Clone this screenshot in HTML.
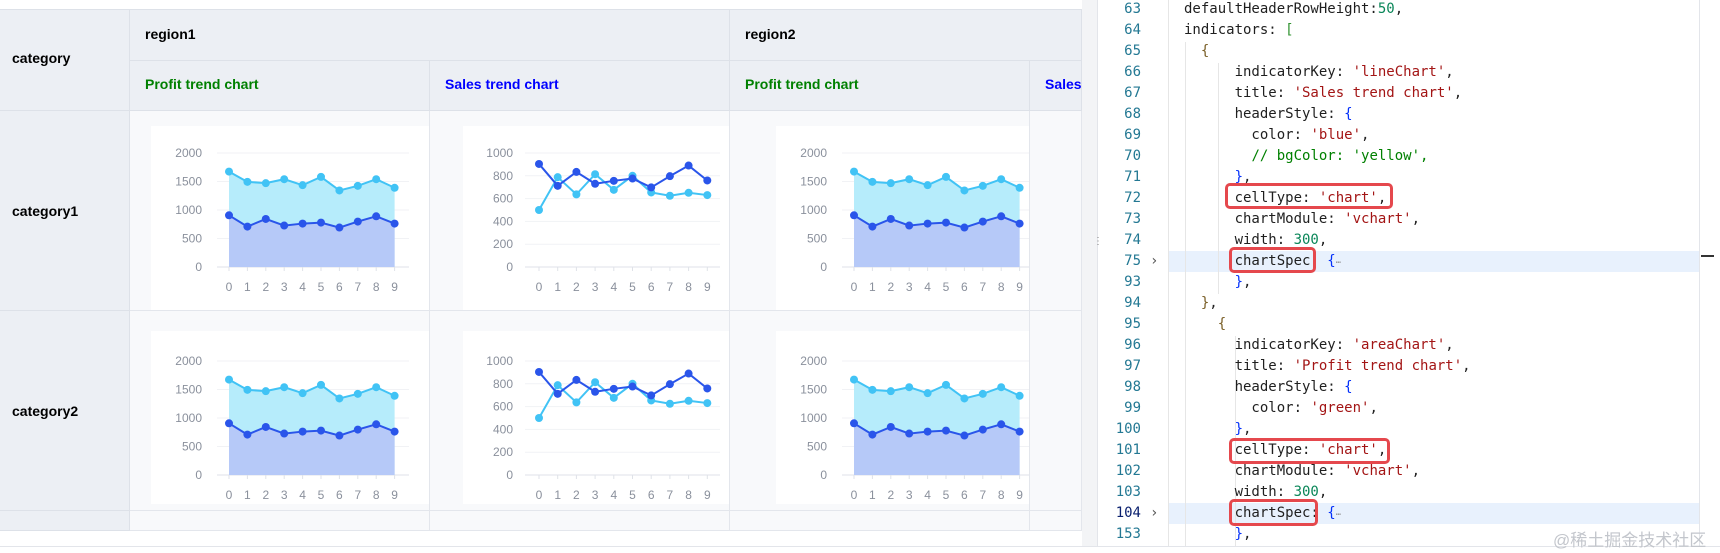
<!DOCTYPE html>
<html><head><meta charset="utf-8">
<style>
body{margin:0;width:1720px;height:553px;overflow:hidden;background:#fff;position:relative;font-family:"Liberation Sans",Arial,sans-serif}
.a{position:absolute;box-sizing:border-box}
.hd{background:#eceff4;border-right:1px solid #dde1e8;border-bottom:1px solid #dde1e8}
.cell{background:#f8f9fb;border-right:1px solid #e3e6ec;border-bottom:1px solid #e3e6ec;overflow:hidden}
.t{position:absolute;font-weight:bold;font-size:14px;color:#000;white-space:nowrap}
.card{position:absolute;background:#fff;overflow:hidden}
.code{position:absolute;font-family:"DejaVu Sans Mono","Liberation Mono",monospace;font-size:14px;white-space:pre;color:#1f1f1f;line-height:21px}
.ln{position:absolute;font-family:"DejaVu Sans Mono","Liberation Mono",monospace;font-size:14px;color:#237893;width:60px;text-align:right;line-height:21px}
.s{color:#a31515}.n{color:#098658}.c{color:#008000}.b{color:#0431fa}.g{color:#319331}.y{color:#795e26}
.box{position:absolute;border:3px solid #e5484d;border-radius:5px;box-sizing:border-box}
</style></head><body>
<div class="a" style="left:0;top:9px;width:1082px;height:1px;background:#dde1e8"></div>
<div class="a hd" style="left:0;top:10px;width:130px;height:101px"><span class="t" style="left:12px;top:40px">category</span></div>
<div class="a hd" style="left:130px;top:10px;width:600px;height:51px"><span class="t" style="left:15px;top:16px">region1</span></div>
<div class="a hd" style="left:730px;top:10px;width:352px;height:51px"><span class="t" style="left:15px;top:16px">region2</span></div>
<div class="a hd" style="left:130px;top:61px;width:300px;height:50px"><span class="t" style="left:15px;top:15px;color:#008000">Profit trend chart</span></div>
<div class="a hd" style="left:430px;top:61px;width:300px;height:50px"><span class="t" style="left:15px;top:15px;color:#0000ff">Sales trend chart</span></div>
<div class="a hd" style="left:730px;top:61px;width:300px;height:50px"><span class="t" style="left:15px;top:15px;color:#008000">Profit trend chart</span></div>
<div class="a hd" style="left:1030px;top:61px;width:52px;height:50px;overflow:hidden"><span class="t" style="left:15px;top:15px;color:#0000ff">Sales trend chart</span></div>
<div class="a hd" style="left:0;top:111px;width:130px;height:200px"><span class="t" style="left:12px;top:92px">category1</span></div>
<div class="a hd" style="left:0;top:311px;width:130px;height:200px"><span class="t" style="left:12px;top:92px">category2</span></div>
<div class="a hd" style="left:0;top:511px;width:130px;height:20px"></div>
<div id="cells"></div>
<div class="a" style="left:0;top:546px;width:1720px;height:1px;background:#e3e5ea"></div>
<div class="a" style="left:1082px;top:0;width:16px;height:546px;background:#f3f4f6;border-right:1px solid #e3e5ea"></div>
<div class="a" style="left:1093px;top:240px;font-size:10px;color:#888;line-height:4px">⋮</div>
<div class="a" style="left:1699px;top:0;width:1px;height:546px;background:#e3e5ea"></div>
<div class="a" style="left:1701px;top:255px;width:13px;height:2px;background:#333"></div>
<div class="a" style="left:1168px;top:251px;width:531px;height:21px;background:#e8f1fd"></div>
<div class="a" style="left:1168px;top:503px;width:531px;height:21px;background:#e8f1fd"></div>
<div class="a" style="left:1168px;top:0;width:1px;height:546px;background:#e6e6e6"></div>
<div class="a" style="left:1185px;top:42px;width:1px;height:504px;background:#e6e6e6"></div>
<div class="a" style="left:1218px;top:63px;width:1px;height:231px;background:#e6e6e6"></div>
<div class="a" style="left:1235px;top:336px;width:1px;height:210px;background:#e6e6e6"></div>
<div id="editor"></div>
<div class="box" style="left:1225px;top:183px;width:168px;height:26px"></div>
<div class="box" style="left:1229px;top:247px;width:87px;height:26px"></div>
<div class="box" style="left:1229px;top:438px;width:161px;height:26px"></div>
<div class="box" style="left:1229px;top:499px;width:89px;height:27px"></div>
<div class="a" style="left:1553px;top:526px;font-size:17px;color:#c3c6cc;font-family:'Liberation Sans','Noto Sans CJK SC',sans-serif">@稀土掘金技术社区</div>
<script>
const categories=[0,1,2,3,4,5,6,7,8,9];
const profitTop=[1674,1494,1471,1540,1436,1581,1343,1424,1540,1390];
const profitBottom=[907,709,843,727,762,779,692,797,890,762];
const salesDark=[904,712,834,730,756,776,698,797,890,759];
const salesLight=[500,788,637,814,677,800,654,625,651,631];
const profitTicks=[0,500,1000,1500,2000];
const salesTicks=[0,200,400,600,800,1000];
const NS='http://www.w3.org/2000/svg';
function mk(tag,attrs,parent){const e=document.createElementNS(NS,tag);for(const k in attrs)e.setAttribute(k,attrs[k]);parent.appendChild(e);return e;}
function chart(card,type,top){
  const svg=mk('svg',{width:300,height:200,style:'position:absolute;left:0;top:0'},card);
  
  
  const isP=type==='profit';
  const ticks=isP?profitTicks:salesTicks, max=ticks[ticks.length-1];
  const x0=isP?78:76, step=isP?18.4:18.7, pl=isP?66:62, pr=isP?258:257, lr=isP?51:50, h=114;
  const X=i=>x0+i*step, Y=v=>top+h-v/max*h;
  ticks.forEach(t=>{
    const g=mk('line',{x1:pl,x2:pr,y1:Y(t),y2:Y(t),stroke:t===0?'#dfe2e8':'#f1f2f5','stroke-width':1},svg);
    
    
    const tx=mk('text',{x:lr,y:Y(t)+4,'text-anchor':'end','font-size':12,fill:'#8a909c','font-family':'Liberation Sans, sans-serif'},svg);
    tx.textContent=t;
    
    
  });
  categories.forEach((c,i)=>{
    mk('line',{x1:X(i),x2:X(i),y1:Y(0),y2:Y(0)+4,stroke:'#dfe2e8'},svg);
    const tx=mk('text',{x:X(i),y:Y(0)+24,'text-anchor':'middle','font-size':12,fill:'#8a909c','font-family':'Liberation Sans, sans-serif'},svg);
    tx.textContent=c;
    
    
  });
  const series=isP?[[profitTop,'#41c3f5','#b6ecfb'],[profitBottom,'#2a55ea','#b6c9f8']]:[[salesLight,'#41c3f5',null],[salesDark,'#2a55ea',null]];
  series.forEach(([d,col,fillc])=>{
    const pts=d.map((v,i)=>X(i)+','+Y(v)).join(' ');
    if(fillc){const a=mk('polygon',{points:X(0)+','+Y(0)+' '+pts+' '+X(d.length-1)+','+Y(0),fill:fillc},svg);
      
      }
  });
  series.forEach(([d,col])=>{
    const pl2=mk('polyline',{points:d.map((v,i)=>X(i)+','+Y(v)).join(' '),fill:'none',stroke:col,'stroke-width':2},svg);
    
    
    d.forEach((v,i)=>{const p=mk('circle',{cx:X(i),cy:Y(v),r:4,fill:col},svg);
      
      });
  });
}
const cells=document.getElementById('cells');
const cols=[[130,300,151,'profit'],[430,300,463,'sales'],[730,300,776,'profit'],[1030,52,1090,'sales']];
const rows=[[111,200,126,185,27],[311,200,331,173,30]];
rows.forEach(([ry,rh,cy,ch,pt],ri)=>{
  cols.forEach(([cx,cw,cardx,type],ci)=>{
    const d=document.createElement('div');d.className='a cell';
    d.style.cssText=`left:${cx}px;top:${ry}px;width:${cw}px;height:${rh}px`;
    
    
    cells.appendChild(d);
    const card=document.createElement('div');card.className='card';
    card.style.cssText=`left:${cardx-cx}px;top:${cy-ry}px;width:279px;height:${ch}px`;
    
    
    d.appendChild(card);
    chart(card,type,pt);
  });
});
cols.forEach(([cx,cw])=>{const d=document.createElement('div');d.className='a cell';
  d.style.cssText=`left:${cx}px;top:511px;width:${cw}px;height:20px`;
  
  
  cells.appendChild(d);});
const lineNums=[63,64,65,66,67,68,69,70,71,72,73,74,75,93,94,95,96,97,98,99,100,101,102,103,104,153];
const codeLines=[
"defaultHeaderRowHeight:<span class=n>50</span>,",
"indicators: <span class=g>[</span>",
"  <span class=y>{</span>",
"      indicatorKey: <span class=s>'lineChart'</span>,",
"      title: <span class=s>'Sales trend chart'</span>,",
"      headerStyle: <span class=b>{</span>",
"        color: <span class=s>'blue'</span>,",
"        <span class=c>// bgColor: 'yellow',</span>",
"      <span class=b>}</span>,",
"      cellType: <span class=s>'chart'</span>,",
"      chartModule: <span class=s>'vchart'</span>,",
"      width: <span class=n>300</span>,",
"      chartSpec  <span class=b>{</span><span style='color:#888;font-size:9px'>⋯</span>",
"      <span class=b>}</span>,",
"  <span class=y>}</span>,",
"    <span class=y>{</span>",
"      indicatorKey: <span class=s>'areaChart'</span>,",
"      title: <span class=s>'Profit trend chart'</span>,",
"      headerStyle: <span class=b>{</span>",
"        color: <span class=s>'green'</span>,",
"      <span class=b>}</span>,",
"      cellType: <span class=s>'chart'</span>,",
"      chartModule: <span class=s>'vchart'</span>,",
"      width: <span class=n>300</span>,",
"      chartSpec: <span class=b>{</span><span style='color:#888;font-size:9px'>⋯</span>",
"      <span class=b>}</span>,"];
const ed=document.getElementById('editor');
lineNums.forEach((n,i)=>{
  const y=-1+21*i;
  const l=document.createElement('div');l.className='ln';l.style.cssText=`left:1081px;top:${y}px;${n===104?'color:#0b216f':''}`;l.textContent=n;
  
  
  ed.appendChild(l);
  const c=document.createElement('div');c.className='code';c.style.cssText=`left:1184px;top:${y}px`;c.innerHTML=codeLines[i];
  
  
  ed.appendChild(c);
  if(n===75||n===104){const f=document.createElement('div');f.className='code';f.style.cssText=`left:1150px;top:${y}px;color:#555`;f.textContent='›';
    
    
    ed.appendChild(f);}
});
</script>
</body></html>
